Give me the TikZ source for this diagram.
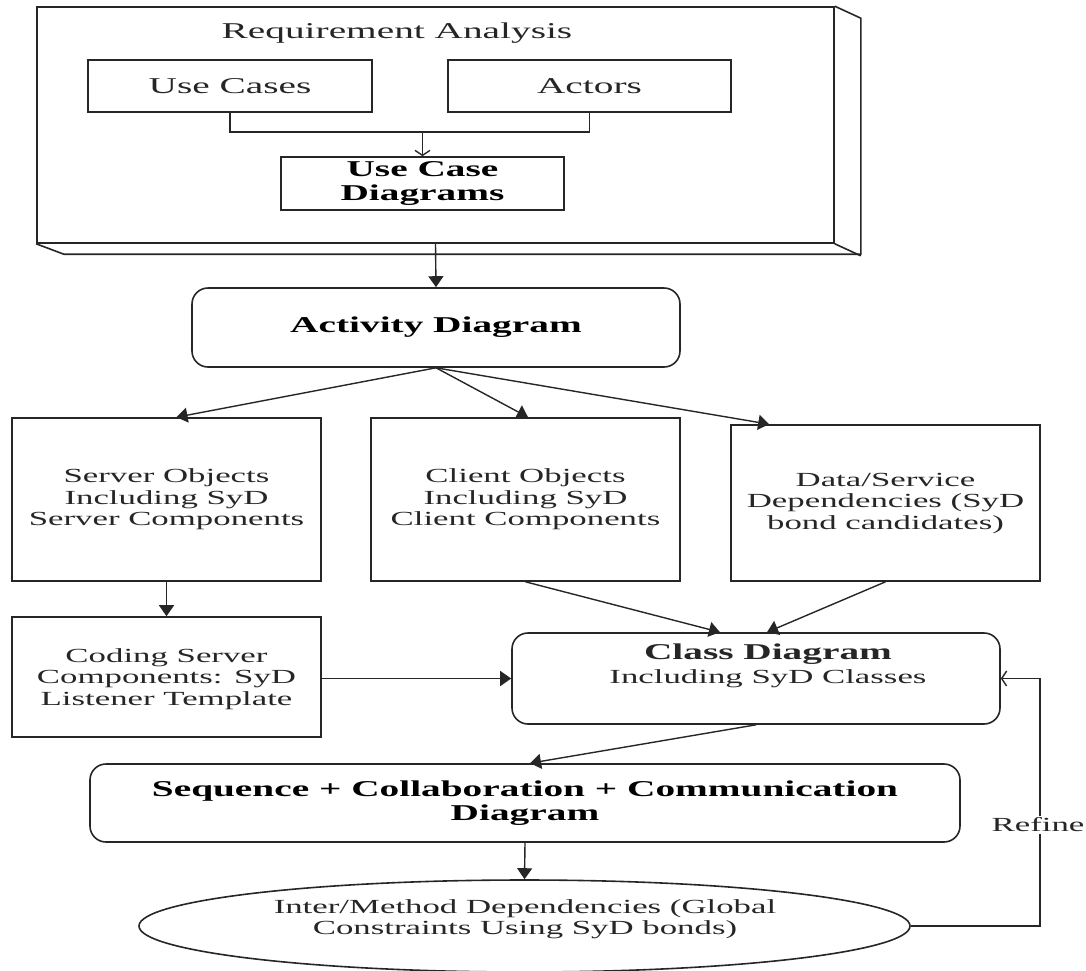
\documentclass[tikz,border=0pt]{standalone}
\usepackage{fontspec}
\setmainfont{Liberation Serif}[FakeStretch=1.74]
\usetikzlibrary{arrows.meta,shapes.geometric}

\begin{document}
\begin{tikzpicture}[x=1pt,y=-1pt,
  line join=miter,
  frame/.style={draw=black!85, line width=1.6pt},
  plain/.style={frame, rectangle, inner sep=0pt},
  roundbox/.style={frame, rectangle, rounded corners=16pt, inner sep=0pt},
  txt/.style={align=center, inner sep=0pt, text=black!85, font=\fontsize{20}{21.5}\selectfont},
  bigtxt/.style={align=center, inner sep=0pt, text=black!85, font=\fontsize{22.6}{23.5}\selectfont},
  bigbold/.style={align=center, inner sep=0pt, font=\fontsize{22.6}{23.5}\selectfont\bfseries},
  link/.style={draw=black!85, line width=1.4pt},
  flow/.style={link, -{Triangle[length=11pt,width=15pt]}},
  barb/.style={link, -{Straight Barb[length=5pt,width=15pt]}},
]
\useasboundingbox (0,0) rectangle (1086,970);

% requirement analysis package (extruded box)
\node[plain, minimum width=797pt, minimum height=236pt] (req) at (435.5,125) {};
\draw[frame] (req.north east) -- ++(26,12) -- ++(0,236) -- ++(-797,0) -- (req.south west);
\draw[frame] (req.south east) -- ++(26,12);
\node[bigtxt] (reqlabel) at (397,33) {Requirement Analysis};

\node[plain, bigtxt, minimum width=284pt, minimum height=52pt] (uc) at (230,86) {Use Cases};
\node[plain, bigtxt, minimum width=283pt, minimum height=52pt] (actr) at (589.5,86) {Actors};
\node[plain, bigbold, minimum width=283pt, minimum height=53pt] (ucd) at (422.5,183.5) {Use Case\\Diagrams};

\coordinate (j) at (422.5,132);
\draw[link] (uc.south) -- (uc.south |- j) -- (actr.south |- j) -- (actr.south);
\draw[barb] (j) -- (ucd.north);

% activity level
\node[roundbox, bigbold, minimum width=488pt, minimum height=79pt] (act) at (436,327.5) {Activity Diagram};
\draw[flow] (req.south) -- (act.north);

% object boxes
\node[plain, txt, minimum width=309pt, minimum height=163pt] (srv) at (166.5,499.5)
  {Server Objects\\Including SyD\\Server Components};
\node[plain, txt, minimum width=309pt, minimum height=163pt] (cli) at (525.5,499.5)
  {Client Objects\\Including SyD\\Client Components};
\node[plain, txt, minimum width=309pt, minimum height=156pt] (dat) at (885.5,503)
  {Data/Service\\Dependencies (SyD\\bond candidates)};

\draw[flow] (act.south) -- ([xshift=10pt]srv.north);
\draw[flow] (act.south) -- ([xshift=2.5pt]cli.north);
\draw[flow] (act.south) -- ([xshift=39pt]dat.north west);

% coding and class diagram
\node[plain, minimum width=309pt, minimum height=120pt] (cod) at (166.5,677) {};
\node[txt] (codtext) at (166.5,679) {Coding Server\\Components: SyD\\Listener Template};
\draw[flow] (srv.south) -- (cod.north);

\node[roundbox, minimum width=488pt, minimum height=91pt] (cls) at (756,678.5) {};
\node[txt] (clstext) at (768,666)
  {{\fontsize{22.6}{24}\selectfont\bfseries Class Diagram}\\[2.5pt]Including SyD Classes};

\draw[flow] (cli.south) -- ([xshift=-36pt]cls.north);
\draw[flow] (dat.south) -- ([xshift=11pt]cls.north);
\draw[flow] (cod.east |- cls.west) -- (cls.west);

% sequence diagram and dependencies
\node[roundbox, bigbold, minimum width=870pt, minimum height=78pt] (seq) at (525,803)
  {Sequence + Collaboration + Communication\\Diagram};
\draw[flow] (cls.south) -- ([xshift=5pt]seq.north);

\node[frame, ellipse, inner sep=0pt, minimum width=771pt, minimum height=92pt] (ell) at (524.5,926) {};
\node[txt] (elltext) at (525,919) {Inter/Method Dependencies (Global\\Constraints Using SyD bonds)};
\draw[flow] (seq.south) -- (ell.north);

% refinement loop
\coordinate (rf) at (1040,926);
\draw[barb] (ell.east) -- (rf) |- (cls.east);
\node[txt, fill=white, inner sep=2pt] (refine) at (1038,825) {Refine};
\end{tikzpicture}
\end{document}
